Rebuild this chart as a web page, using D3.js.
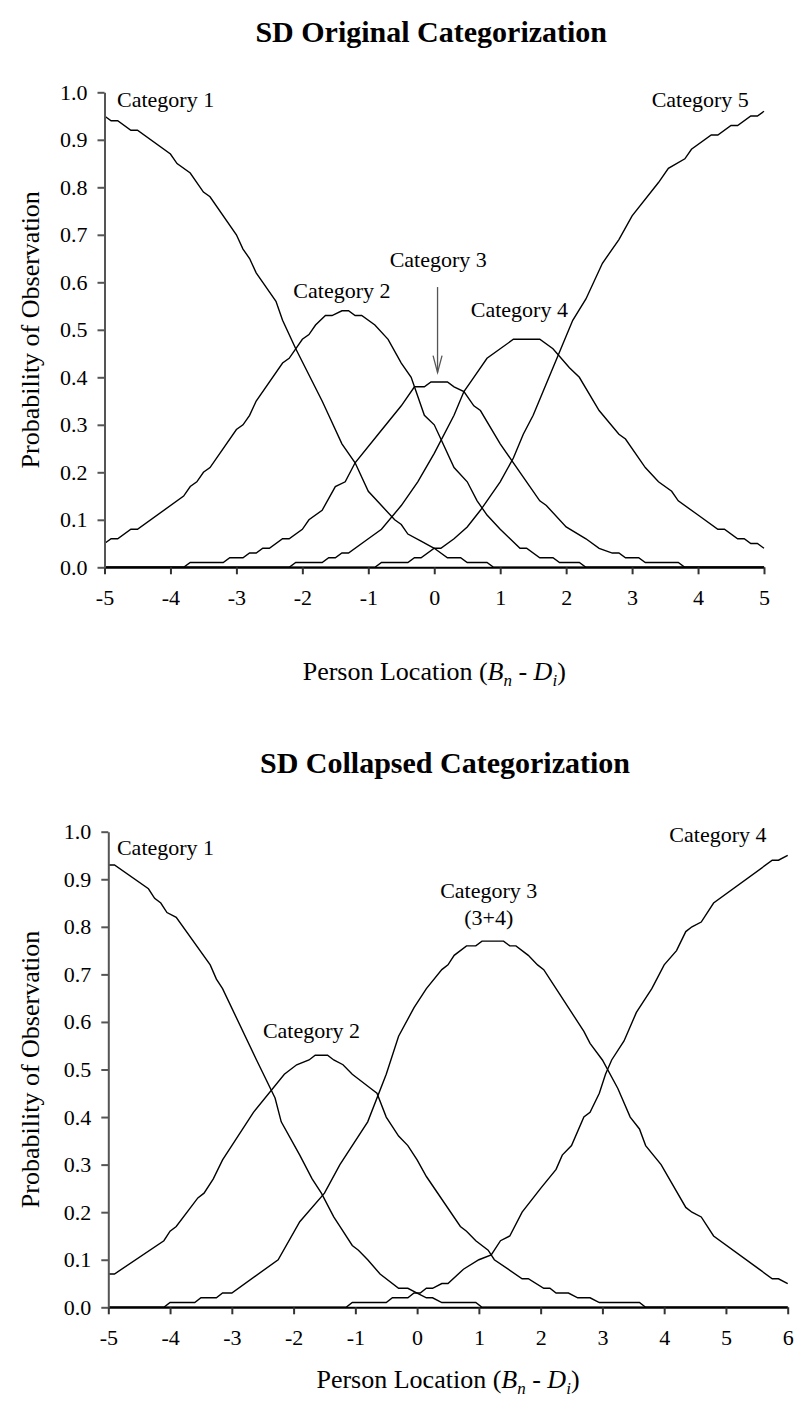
<!DOCTYPE html>
<meta charset="utf-8">
<style>
body { margin: 0; background: #fff; }
svg { display: block; font-family: "Liberation Serif", "Times New Roman", serif; }
.curve { fill: none; stroke: #000; stroke-width: 1.4px; }
.yaxis path, .yaxis line { stroke: #555; stroke-width: 2px; }
.xaxis path { stroke: #000; stroke-width: 2px; }
.xaxis line { stroke: #333; stroke-width: 2px; }
.tick text { font-size: 22px; fill: #000; font-family: "Liberation Serif", serif; }
.lbl { font-size: 22px; fill: #000; }
.title { font-size: 30px; font-weight: bold; fill: #000; }
.axtitle { font-size: 26px; fill: #000; }
</style>
<svg width="801" height="1416"></svg>
<script src="https://d3js.org/d3.v7.min.js"></script>
<script>

// ---- top chart: original categorization, [location, probability]
var origCat1 = [[-5,0.95],[-4.9,0.94],[-4.8,0.94],[-4.6,0.92],[-4.5,0.92],[-4.0,0.87],[-3.9,0.85],[-3.7,0.83],[-3.5,0.79],[-3.4,0.78],
  [-3.0,0.70],[-2.9,0.67],[-2.8,0.65],[-2.7,0.62],[-2.6,0.60],[-2.4,0.56],[-2.3,0.52],[-2.1,0.46],[-1.7,0.35],[-1.6,0.32],
  [-1.4,0.26],[-1.2,0.22],[-1.0,0.16],[-0.8,0.13],[-0.6,0.10],[-0.5,0.09],[-0.4,0.07],[-0.2,0.055],[0,0.04],[0.2,0.02],
  [0.4,0.02],[0.5,0.01],[0.8,0.01],[0.9,0],[5,0]];
var origCat2 = [[-5,0.05],[-4.9,0.06],[-4.8,0.06],[-4.6,0.08],[-4.5,0.08],[-3.8,0.15],[-3.7,0.17],[-3.6,0.18],[-3.5,0.20],[-3.4,0.21],
  [-3.0,0.29],[-2.9,0.30],[-2.8,0.32],[-2.7,0.35],[-2.3,0.43],[-2.2,0.44],[-2.0,0.48],[-1.9,0.49],[-1.8,0.51],[-1.65,0.53],
  [-1.55,0.53],[-1.4,0.54],[-1.3,0.54],[-1.2,0.53],[-1.1,0.53],[-0.9,0.51],[-0.7,0.48],[-0.5,0.43],[-0.35,0.40],[-0.15,0.32],
  [0,0.30],[0.1,0.27],[0.3,0.21],[0.5,0.18],[0.65,0.14],[0.8,0.11],[1.0,0.08],[1.15,0.06],[1.3,0.04],[1.4,0.04],
  [1.6,0.02],[1.8,0.02],[1.9,0.01],[2.2,0.01],[2.3,0],[5,0]];
var origCat3 = [[-5,0],[-3.8,0],[-3.7,0.01],[-3.2,0.01],[-3.1,0.02],[-2.9,0.02],[-2.8,0.03],[-2.7,0.03],[-2.6,0.04],[-2.5,0.04],
  [-2.3,0.06],[-2.2,0.06],[-2.0,0.08],[-1.9,0.10],[-1.7,0.12],[-1.5,0.17],[-1.35,0.18],[-1.2,0.22],[-0.85,0.28],[-0.5,0.34],
  [-0.3,0.38],[-0.15,0.38],[-0.05,0.39],[0.05,0.39],[0.2,0.39],[0.3,0.38],[0.45,0.37],[0.6,0.34],[0.7,0.33],[1.0,0.26],
  [1.2,0.22],[1.4,0.18],[1.6,0.14],[1.7,0.13],[2.0,0.085],[2.3,0.06],[2.5,0.04],[2.7,0.03],[2.8,0.03],[2.9,0.02],
  [3.1,0.02],[3.2,0.01],[3.7,0.01],[3.8,0],[5,0]];
var origCat4 = [[-5,0],[-2.2,0],[-2.1,0.01],[-1.7,0.01],[-1.6,0.02],[-1.5,0.02],[-1.4,0.03],[-1.3,0.03],[-1.0,0.06],[-0.8,0.08],
  [-0.5,0.13],[-0.25,0.18],[0,0.24],[0.3,0.32],[0.45,0.37],[0.6,0.40],[0.8,0.44],[1.0,0.46],[1.2,0.48],[1.6,0.48],
  [1.8,0.46],[2.05,0.42],[2.2,0.40],[2.5,0.33],[2.8,0.28],[2.9,0.27],[3.2,0.21],[3.4,0.18],[3.6,0.16],[3.7,0.14],
  [4.0,0.11],[4.3,0.08],[4.4,0.08],[4.6,0.06],[4.7,0.06],[4.8,0.05],[4.9,0.05],[5,0.04]];
var origCat5 = [[-5,0],[-0.9,0],[-0.8,0.01],[-0.4,0.01],[-0.3,0.02],[-0.2,0.02],[0,0.04],[0.1,0.04],[0.3,0.06],[0.5,0.085],
  [0.7,0.12],[0.85,0.15],[1.0,0.18],[1.2,0.23],[1.35,0.28],[1.5,0.32],[1.65,0.37],[1.8,0.42],[1.95,0.47],[2.1,0.52],
  [2.3,0.565],[2.55,0.64],[2.8,0.69],[3.0,0.74],[3.4,0.81],[3.55,0.84],[3.8,0.86],[3.9,0.88],[4.2,0.91],[4.3,0.91],
  [4.5,0.93],[4.6,0.93],[4.8,0.95],[4.9,0.95],[5,0.96]];

// ---- bottom chart: collapsed categorization
var collCat1 = [[-5,0.93],[-4.9,0.93],[-4.35,0.88],[-4.25,0.86],[-4.15,0.85],[-4.05,0.83],[-3.9,0.82],[-3.35,0.72],[-3.25,0.69],[-3.15,0.67],
  [-2.6,0.52],[-2.3,0.44],[-2.2,0.39],[-1.9,0.32],[-1.7,0.27],[-1.55,0.24],[-1.35,0.19],[-1.25,0.17],[-1.05,0.13],[-0.95,0.12],
  [-0.8,0.10],[-0.6,0.07],[-0.3,0.04],[-0.15,0.04],[0,0.03],[0.15,0.02],[0.25,0.02],[0.4,0.01],[0.95,0.01],[1.05,0],[6,0]];
var collCat2 = [[-5,0.07],[-4.9,0.07],[-4.1,0.14],[-4.0,0.16],[-3.9,0.17],[-3.55,0.23],[-3.45,0.24],[-3.3,0.27],[-3.15,0.31],[-3.0,0.34],
  [-2.65,0.41],[-2.15,0.49],[-1.95,0.51],[-1.75,0.52],[-1.65,0.53],[-1.45,0.53],[-1.35,0.52],[-1.2,0.51],[-1.05,0.49],[-0.95,0.48],
  [-0.75,0.46],[-0.65,0.45],[-0.5,0.40],[-0.3,0.36],[-0.15,0.34],[0,0.31],[0.15,0.275],[0.7,0.17],[0.8,0.16],[0.95,0.14],
  [1.15,0.12],[1.25,0.10],[1.7,0.06],[1.8,0.06],[2.05,0.04],[2.15,0.04],[2.25,0.03],[2.45,0.03],[2.6,0.02],[2.8,0.02],
  [2.95,0.01],[3.6,0.01],[3.7,0],[6,0]];
var collCat3 = [[-5,0],[-4.1,0],[-4.0,0.01],[-3.6,0.01],[-3.5,0.02],[-3.25,0.02],[-3.15,0.03],[-3.0,0.03],[-2.25,0.10],[-1.9,0.18],
  [-1.5,0.24],[-1.25,0.30],[-0.8,0.39],[-0.5,0.49],[-0.3,0.57],[-0.05,0.63],[0.15,0.67],[0.4,0.71],[0.5,0.72],[0.6,0.74],
  [0.8,0.76],[0.95,0.76],[1.05,0.77],[1.4,0.77],[1.5,0.76],[1.6,0.76],[1.8,0.74],[1.95,0.72],[2.05,0.71],[2.25,0.67],
  [2.55,0.61],[2.7,0.58],[2.8,0.555],[3.0,0.52],[3.25,0.46],[3.45,0.40],[3.6,0.375],[3.7,0.34],[3.95,0.30],[4.35,0.21],
  [4.45,0.20],[4.6,0.19],[4.8,0.15],[5.75,0.06],[5.85,0.06],[6,0.05]];
var collCat4 = [[-5,0],[-1.15,0],[-1.05,0.01],[-0.5,0.01],[-0.4,0.02],[-0.15,0.02],[-0.05,0.03],[0.05,0.03],[0.15,0.04],[0.25,0.04],
  [0.4,0.05],[0.5,0.05],[0.75,0.08],[1.0,0.10],[1.2,0.11],[1.35,0.14],[1.5,0.15],[1.7,0.20],[2.0,0.25],[2.25,0.29],
  [2.35,0.32],[2.5,0.34],[2.7,0.40],[2.8,0.41],[2.95,0.45],[3.05,0.49],[3.15,0.52],[3.35,0.56],[3.55,0.62],[3.7,0.65],
  [3.8,0.67],[4.0,0.72],[4.2,0.75],[4.35,0.79],[4.45,0.80],[4.6,0.81],[4.8,0.85],[5.75,0.94],[5.85,0.94],[6,0.95]];

var yTicks = [0, 0.1, 0.2, 0.3, 0.4, 0.5, 0.6, 0.7, 0.8, 0.9, 1.0];
var xTicksTop = [-5, -4, -3, -2, -1, 0, 1, 2, 3, 4, 5];
var xTicksBottom = [-5, -4, -3, -2, -1, 0, 1, 2, 3, 4, 5, 6];

// label text and where it sits (data coords)
var topLabels = [
  {t: "Category 1", x: -4.81, y: 0.969, anchor: "start"},
  {t: "Category 5", x: 4.77, y: 0.969, anchor: "end"},
  {t: "Category 2", x: -1.40, y: 0.567, anchor: "middle"},
  {t: "Category 3", x: 0.06, y: 0.632, anchor: "middle"},
  {t: "Category 4", x: 1.29, y: 0.527, anchor: "middle"}
];
var bottomLabels = [
  {t: "Category 1", x: -4.86, y: 0.951, anchor: "start"},
  {t: "Category 2", x: -1.71, y: 0.566, anchor: "middle"},
  {t: "Category 3", x: 1.16, y: 0.861, anchor: "middle"},
  {t: "(3+4)", x: 1.16, y: 0.804, anchor: "middle"},
  {t: "Category 4", x: 4.87, y: 0.978, anchor: "middle"}
];

var svg = d3.select("svg");

function drawChart(cfg) {
  var x = d3.scaleLinear().domain(cfg.xDomain).range([cfg.left, cfg.right]);
  var y = d3.scaleLinear().domain([0, 1]).range([cfg.bottom, cfg.top]);
  var g = svg.append("g");

  g.append("text").attr("class", "title")
    .attr("x", (cfg.left + cfg.right) / 2 - 3).attr("y", cfg.titleY)
    .attr("text-anchor", "middle").text(cfg.title);

  var line = d3.line().x(function(d) { return x(d[0]); }).y(function(d) { return y(d[1]); });

  g.selectAll("path.curve").data(cfg.series).enter()
    .append("path").attr("class", "curve").attr("d", line);

  // plain hyphen for negatives, like the original
  g.append("g").attr("class", "xaxis")
    .attr("transform", "translate(0," + cfg.bottom + ")")
    .call(d3.axisBottom(x).tickValues(cfg.xTicks).tickSize(7).tickSizeOuter(0).tickPadding(15)
      .tickFormat(function(d) { return String(d); }));

  g.append("g").attr("class", "yaxis")
    .attr("transform", "translate(" + cfg.left + ",0)")
    .call(d3.axisLeft(y).tickValues(yTicks).tickSize(7).tickSizeOuter(0).tickPadding(10)
      .tickFormat(d3.format(".1f")));

  g.selectAll("text.lbl").data(cfg.labels).enter()
    .append("text").attr("class", "lbl")
    .attr("x", function(d) { return x(d.x); })
    .attr("y", function(d) { return y(d.y); })
    .attr("text-anchor", function(d) { return d.anchor; })
    .text(function(d) { return d.t; });

  // y axis title
  g.append("text").attr("class", "axtitle")
    .attr("transform", "translate(" + cfg.yTitleX + "," + (cfg.top + cfg.bottom) / 2 + ") rotate(-90)")
    .attr("text-anchor", "middle").attr("dy", "0.35em")
    .text("Probability of Observation");

  // x axis title with italic subscripts
  var xt = g.append("text").attr("class", "axtitle")
    .attr("x", (cfg.left + cfg.right) / 2).attr("y", cfg.xTitleY)
    .attr("text-anchor", "middle");
  xt.append("tspan").text("Person Location (");
  xt.append("tspan").attr("font-style", "italic").text("B");
  xt.append("tspan").attr("font-style", "italic").attr("font-size", "17px").attr("dy", 6).text("n");
  xt.append("tspan").attr("dy", -6).text(" - ");
  xt.append("tspan").attr("font-style", "italic").text("D");
  xt.append("tspan").attr("font-style", "italic").attr("font-size", "17px").attr("dy", 6).text("i");
  xt.append("tspan").attr("dy", -6).text(")");

  if (cfg.arrow) {
    var a = cfg.arrow;
    var ax = x(a.x), y0 = y(a.from), y1 = y(a.to);
    g.append("line").attr("x1", ax).attr("x2", ax).attr("y1", y0).attr("y2", y1)
      .attr("stroke", "#555").attr("stroke-width", 1.3);
    g.append("path")
      .attr("d", "M" + (ax - 4.5) + "," + (y1 - 17) + "L" + ax + "," + y1 + "L" + (ax + 4.5) + "," + (y1 - 17))
      .attr("fill", "none").attr("stroke", "#555").attr("stroke-width", 1.3);
  }
}

drawChart({
  title: "SD Original Categorization", titleY: 42,
  xDomain: [-5, 5], xTicks: xTicksTop,
  left: 104.5, right: 764, top: 92.3, bottom: 567.3,
  series: [origCat1, origCat2, origCat3, origCat4, origCat5],
  labels: topLabels, yTitleX: 30, xTitleY: 680,
  arrow: {x: 0.05, from: 0.59, to: 0.41}
});

drawChart({
  title: "SD Collapsed Categorization", titleY: 773,
  xDomain: [-5, 6], xTicks: xTicksBottom,
  left: 108.3, right: 787.7, top: 831.7, bottom: 1307.3,
  series: [collCat1, collCat2, collCat3, collCat4],
  labels: bottomLabels, yTitleX: 30, xTitleY: 1388
});

</script>
